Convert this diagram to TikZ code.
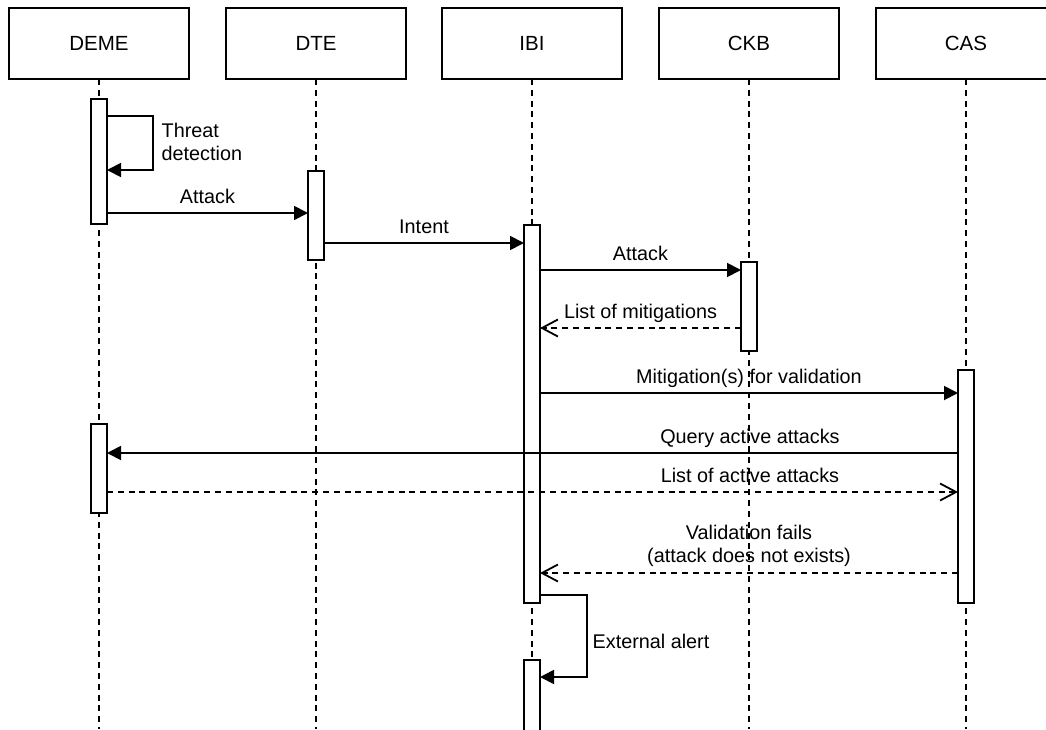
\documentclass[tikz,border=0pt]{standalone}
\usepackage{fontspec}
\setmainfont{Liberation Sans}
\usetikzlibrary{arrows.meta}
\begin{document}
\begin{tikzpicture}[x=1pt,y=-1pt,
  every node/.style={font=\fontsize{19.8}{23}\selectfont},
  head/.style={draw, fill=white, line width=1.8pt, minimum width=180pt,
    minimum height=71pt, inner sep=0pt, outer sep=0pt,
    font=\fontsize{20.5}{24}\selectfont},
  life/.style={line width=1.8pt, dash pattern=on 6pt off 4.8pt},
  actbar/.style={draw, fill=white, line width=1.8pt, minimum width=16pt,
    inner sep=0pt, outer sep=0pt},
  msg/.style={line width=1.8pt, -{Triangle[length=14pt,width=14pt]}},
  reply/.style={line width=1.8pt, dash pattern=on 6pt off 4.8pt,
    -{Straight Barb[length=16pt,width=17pt]}},
  lbl/.style={anchor=base, inner sep=0pt, yshift=10pt},
]
\clip (0,0) rectangle (1046,729);
\fill[white] (0,0) rectangle (1046,729);

% participants
\node[head] (deme) at (99,43.5)  {DEME};
\node[head] (dte)  at (316,43.5) {DTE};
\node[head] (ibi)  at (532,43.5) {IBI};
\node[head] (ckb)  at (749,43.5) {CKB};
\node[head] (cas)  at (966,43.5) {CAS};

% lifelines
\coordinate (bottom) at (0,729);
\foreach \p in {deme,dte,ibi,ckb,cas}
  \draw[life] (\p.south) -- (\p.south |- bottom);

% activation bars
\node[actbar, minimum height=125pt] (deme1) at (99,161.5)  {};
\node[actbar, minimum height=89pt]  (dte1)  at (316,215.5) {};
\node[actbar, minimum height=378pt] (ibi1)  at (532,414)   {};
\node[actbar, minimum height=89pt]  (ckb1)  at (749,306.5) {};
\node[actbar, minimum height=233pt] (cas1)  at (966,486.5) {};
\node[actbar, minimum height=89pt]  (deme2) at (99,468.5)  {};
\node[actbar, minimum height=80pt]  (ibi2)  at (532,700)   {};

% message rows
\coordinate (rAttack)  at (0,213);
\coordinate (rIntent)  at (0,243);
\coordinate (rAttack2) at (0,270);
\coordinate (rList)    at (0,328);
\coordinate (rMit)     at (0,393);
\coordinate (rQuery)   at (0,453);
\coordinate (rActive)  at (0,492);
\coordinate (rValid)   at (0,573);

% self message: threat detection
\coordinate (loopA1) at (153,116);
\coordinate (loopA2) at (153,170);
\draw[msg] (deme1.east |- loopA1) -- (loopA1) -- (loopA2) -- (deme1.east |- loopA2);
\node[anchor=north west, align=left, inner sep=0pt] (threat) at (161.5,123.1)
  {Threat\\detection};

% messages
\draw[msg] (deme1.east |- rAttack) -- node[lbl] {Attack} (dte1.west |- rAttack);
\draw[msg] (dte1.east |- rIntent) -- node[lbl] {Intent} (ibi1.west |- rIntent);
\draw[msg] (ibi1.east |- rAttack2) -- node[lbl] {Attack} (ckb1.west |- rAttack2);
\draw[reply] (ckb1.west |- rList) -- node[lbl] {List of mitigations} (ibi1.east |- rList);
\draw[msg] (ibi1.east |- rMit) -- node[lbl] {Mitigation(s) for validation} (cas1.west |- rMit);
\draw[msg] (cas1.west |- rQuery) -- node[lbl, pos=0.2445] {Query active attacks} (deme2.east |- rQuery);
\draw[reply] (deme2.east |- rActive) -- node[lbl, pos=0.7555] {List of active attacks} (cas1.west |- rActive);
\draw[reply] (cas1.west |- rValid) -- node[anchor=south, align=center, inner sep=0pt, yshift=5.8pt]
  {Validation fails\\(attack does not exists)} (ibi1.east |- rValid);

% self message: external alert
\coordinate (loopB1) at (587,595);
\coordinate (loopB2) at (587,677);
\draw[msg] (ibi1.east |- loopB1) -- (loopB1) -- (loopB2) -- (ibi2.east |- loopB2);
\node[anchor=base west, inner sep=0pt] (ext) at (592.5,648.3) {External alert};
\end{tikzpicture}
\end{document}
